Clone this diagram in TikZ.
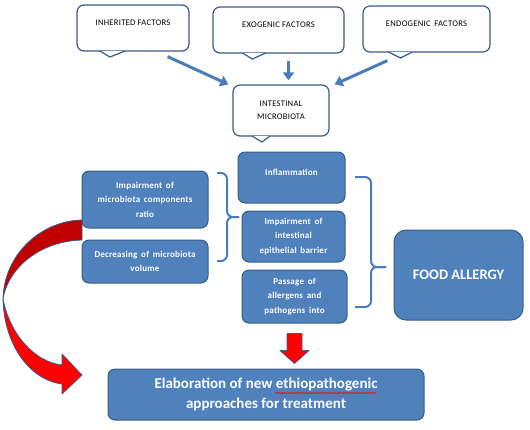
\documentclass[tikz,border=0pt]{standalone}
\usepackage{fontspec}
\setmainfont{Carlito}
\usetikzlibrary{positioning}
\usetikzlibrary{arrows.meta}
\usetikzlibrary{decorations.pathmorphing}
\definecolor{boxblue}{HTML}{4F81BD}
\definecolor{edgeblue}{HTML}{385D8A}
\definecolor{arrowblue}{HTML}{4A7EBB}
\definecolor{darkred}{HTML}{C00000}

\begin{document}
\begin{tikzpicture}[x=1pt, y=-1pt,
    callout/.style={draw=edgeblue, line width=1.2pt, fill=white, rounded corners=7pt, font=\fontsize{8.6}{13}\selectfont\addfontfeature{LetterSpace=3}, align=center, inner sep=0pt},
    bluebox/.style={draw=edgeblue, line width=1pt, fill=boxblue, rounded corners=7pt, text=white, font=\bfseries\fontsize{9}{14.5}\selectfont\addfontfeature{LetterSpace=2.5}, align=center, inner sep=0pt},
    feed/.style={draw=arrowblue, line width=3pt, -{Triangle[length=8pt,width=11pt]}},
    bracket/.style={draw=arrowblue, line width=2pt, rounded corners=6pt},
    tail/.style={draw=edgeblue, line width=1.2pt, fill=white},
    redarrow/.style={draw=edgeblue, line width=0.8pt, line join=round}]
    \useasboundingbox (0,0) rectangle (530,429);
    \node[callout, minimum width=112pt, minimum height=46pt, text depth=10pt] (inh) at (133,28) {INHERITED FACTORS};
    \node[callout, minimum width=131pt, minimum height=46pt, text depth=10pt] (exo) at (278.5,30) {EXOGENIC FACTORS};
    \node[callout, minimum width=127pt, minimum height=46pt, text depth=10pt] (endo) at (426.5,29) {ENDOGENIC \,FACTORS};
    \node[callout, minimum width=96pt, minimum height=51pt] (micro) at (281,110.5) {INTESTINAL\\MICROBIOTA};
    \draw[tail] ([xshift=-33pt,yshift=0.6pt]inh.south) -- ++(10,6) -- ++(15,-6);
    \draw[tail] ([xshift=-36pt,yshift=0.6pt]exo.south) -- ++(10,6) -- ++(13,-6);
    \draw[tail] ([xshift=-38pt,yshift=0.6pt]endo.south) -- ++(12,6) -- ++(12,-6);
    \draw[tail] ([xshift=-29pt,yshift=0.6pt]micro.south) -- ++(10,6) -- ++(8,-6);
    \draw[feed] ([xshift=-22pt,yshift=-5pt]inh.south east) -- ([xshift=-4pt]micro.north west);
    \draw[feed] ([xshift=10pt,yshift=-7pt]exo.south) -- ([xshift=7.5pt,yshift=4pt]micro.north);
    \draw[feed] ([xshift=25pt,yshift=-8pt]endo.south west) -- ([xshift=5pt]micro.north east);
    \node[bluebox, minimum width=126pt, minimum height=57pt] (ratio) at (145,199.5) {Impairment \,of\\microbiota \,components\\ratio};
    \node[bluebox, minimum width=126pt, minimum height=43pt] (volume) at (145,261.5) {Decreasing \,of \,microbiota\\volume};
    \node[bluebox, minimum width=107pt, minimum height=51pt, text depth=10pt] (infl) at (291.5,177.5) {Inflammation};
    \node[bluebox, minimum width=103pt, minimum height=51pt] (barrier) at (293.5,236.5) {Impairment \,of\\intestinal\\epithelial \,barrier};
    \node[bluebox, minimum width=105pt, minimum height=53pt] (passage) at (294.5,296.5) {Passage \,of\\allergens \,and\\pathogens \,into};
    \node[bluebox, minimum width=129pt, minimum height=90pt, rounded corners=12pt, font=\bfseries\fontsize{14.5}{17}\selectfont] (allergy) at (458.5,275) {FOOD ALLERGY};
    \node[bluebox, minimum width=316pt, minimum height=51pt, font=\bfseries\fontsize{15}{20}\selectfont] (treat) at (266,394.5) {Elaboration of new ethiopathogenic\\approaches for treatment};
    \draw[red, line width=0.6pt, decorate, decoration={snake, amplitude=0.7pt, segment length=3pt}] (275,393) -- (376,393);
    \draw[bracket] (217,173) -| (227,217) -- (239,217);
    \draw[bracket] (217,261) -| (227,217) -- (239,217);
    \draw[bracket] (355,177) -| (371,267) -- (386,267);
    \draw[bracket] (355,307) -| (371,267) -- (386,267);
    \draw[redarrow, fill=red] ([yshift=-10pt]passage.south) ++(-7.5,0) -- ++(15,0) -- ++(0,17) -- ++(7,0) -- ++(-14.5,13) -- ++(-14.5,-13) -- ++(7,0) -- cycle;
    \draw[redarrow, fill=darkred] (82,220) .. controls (40,221) and (4,255) .. (3,299) .. controls (8,268) and (40,241) .. (82,240) -- cycle;
    \draw[redarrow, fill=red] (3,299) .. controls (4,345) and (30,380) .. (62,384) -- (62,394) -- (82,375) -- (62,354) -- (62,365) .. controls (35,362) and (10,335) .. (3,299) -- cycle;
\end{tikzpicture}
\end{document}
